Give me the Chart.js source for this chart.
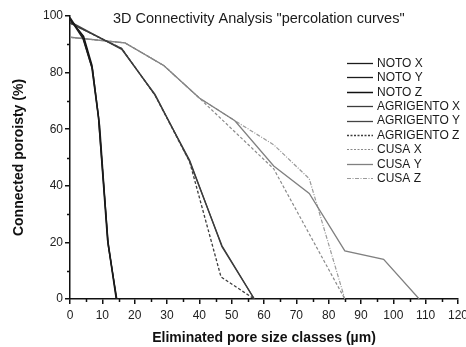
<!DOCTYPE html>
<html>
<head>
<meta charset="utf-8">
<title>3D Connectivity Analysis</title>
<script src="https://cdn.jsdelivr.net/npm/chart.js@4.4.1/dist/chart.umd.min.js"></script>
<style>
  html, body { margin: 0; padding: 0; background: #fff; }
  #wrap { width: 466px; height: 347px; }
</style>
</head>
<body>
<div id="wrap"><canvas id="chart" width="466" height="347"></canvas></div>
<script>
// ---- data: eliminated pore size (µm) / connected porosity (%) ----
const seriesNames = ['NOTO X', 'NOTO Y', 'NOTO Z', 'AGRIGENTO X', 'AGRIGENTO Y', 'AGRIGENTO Z', 'CUSA X', 'CUSA Y', 'CUSA Z'];

const sizeNotoX = [0, 4, 6.7, 8.8, 11.8, 14.4];
const poroNotoX = [99, 92, 82, 64, 20, 0];
const sizeNotoY = [0, 4, 7, 9.2, 11.8, 14.5];
const poroNotoY = [99.5, 92.5, 81, 61, 19, 0];
const sizeNotoZ = [0, 4.2, 6.8, 8.8, 11.6, 14.3];
const poroNotoZ = [98.8, 92.8, 82.5, 64.5, 21, 0];

const sizeAgriX = [0, 16, 26.3, 37, 47, 57];
const poroAgriX = [97.5, 88.5, 72, 49, 18.5, 0];
const sizeAgriY = [0, 16, 26.3, 37, 47, 57];
const poroAgriY = [98, 88.2, 72.3, 48.6, 18.8, 0];
const sizeAgriZ = [0, 16, 26.3, 37, 46.7, 57];
const poroAgriZ = [97.5, 88.5, 72, 48.5, 7.8, 0];

const sizeCusaX = [0, 17, 29, 40, 63, 85];
const poroCusaX = [92.5, 90.5, 82.5, 71, 46, 0];
const sizeCusaY = [0, 17, 29, 40, 51, 63, 74, 85, 97, 108];
const poroCusaY = [92.5, 90.5, 82.5, 71, 63, 47, 37.3, 17, 14, 0];
const sizeCusaZ = [0, 17, 29, 40, 51, 63, 74, 85];
const poroCusaZ = [92.5, 90.5, 82.5, 71, 63, 54.5, 42.5, 0];

const xTicksMinor = [5, 15, 25, 35, 45, 55, 65, 75, 85, 95, 105, 115];
const yTicksMinor = [10, 30, 50, 70, 90];

const FONT = "'Liberation Sans', Arial, sans-serif";

/**
 * Zip an x and a y array into chart points.
 */
const toPoints = (xs, ys) => xs.map((x, i) => ({ x: x, y: ys[i] }));

const makeSet = (i, xs, ys, color, width, dash, legendDash) => ({
  label: seriesNames[i],
  data: toPoints(xs, ys),
  borderColor: color,
  borderWidth: width,
  borderDash: dash,
  legendDash: legendDash || dash,
  pointRadius: 0,
  tension: 0,
  fill: false,
});

const datasets = [
  makeSet(0, sizeNotoX, poroNotoX, '#1c1c1c', 1.3, []),
  makeSet(1, sizeNotoY, poroNotoY, '#1c1c1c', 1.3, []),
  makeSet(2, sizeNotoZ, poroNotoZ, '#111111', 1.5, []),
  makeSet(3, sizeAgriX, poroAgriX, '#3c3c3c', 1.3, []),
  makeSet(4, sizeAgriY, poroAgriY, '#444444', 1.3, []),
  makeSet(5, sizeAgriZ, poroAgriZ, '#3c3c3c', 1.3, [3, 2], [2, 1.5]),
  makeSet(6, sizeCusaX, poroCusaX, '#8a8a8a', 1.2, [3, 2], [2, 1.5]),
  makeSet(7, sizeCusaY, poroCusaY, '#808080', 1.3, []),
  makeSet(8, sizeCusaZ, poroCusaZ, '#9a9a9a', 1.2, [4, 1.5, 1, 1.5]),
];

//* =============== overlay: title, legend, minor ticks =============== */
const overlayPlugin = {
  id: 'overlay',
  afterDraw(chart) {
    const ctx = chart.ctx;
    const area = chart.chartArea;
    const xs = chart.scales.x;
    const ys = chart.scales.y;
    ctx.save();

    // minor ticks, shorter than the major ones
    ctx.strokeStyle = '#111';
    ctx.lineWidth = 1.5;
    ctx.beginPath();
    xTicksMinor.forEach(v => {
      const px = Math.round(xs.getPixelForValue(v)) + 0.5;
      ctx.moveTo(px, area.bottom);
      ctx.lineTo(px, area.bottom + 3);
    });
    yTicksMinor.forEach(v => {
      const py = Math.round(ys.getPixelForValue(v)) + 0.5;
      ctx.moveTo(area.left, py);
      ctx.lineTo(area.left - 3, py);
    });
    ctx.stroke();

    // title sits inside the plot, top centre
    ctx.fillStyle = '#1a1a1a';
    ctx.font = '14.5px ' + FONT;
    ctx.textAlign = 'left';
    ctx.textBaseline = 'middle';
    ctx.fillText('3D Connectivity Analysis "percolation curves"', area.left + 43, 19);

    // legend, top right inside the plot
    const lx = area.right - 111;
    ctx.font = '12px ' + FONT;
    chart.data.datasets.forEach((ds, i) => {
      const ly = 63 + i * 14.4;
      ctx.strokeStyle = ds.borderColor;
      ctx.lineWidth = ds.borderWidth;
      ctx.setLineDash(ds.legendDash);
      ctx.beginPath();
      ctx.moveTo(lx, Math.round(ly) + 0.5);
      ctx.lineTo(lx + 26, Math.round(ly) + 0.5);
      ctx.stroke();
      ctx.setLineDash([]);
      ctx.fillStyle = '#1a1a1a';
      ctx.fillText(ds.label, lx + 30, ly + 0.5);
    });
    ctx.restore();
  },
};

const axisGrid = {
  drawOnChartArea: false,
  drawTicks: true,
  tickLength: 5,
  color: '#111',
  lineWidth: 1.5,
};

new Chart(document.querySelector('#chart'), {
  type: 'line',
  data: { datasets: datasets },
  plugins: [overlayPlugin],
  options: {
    responsive: false,
    animation: false,
    layout: { padding: { top: 16, right: 8, left: 0, bottom: 0 } },
    plugins: {
      legend: { display: false },
      tooltip: { enabled: false },
      title: { display: false },
    },
    scales: {
      x: {
        type: 'linear',
        min: 0,
        max: 120,
        grid: axisGrid,
        border: { display: true, color: '#111', width: 1.5 },
        ticks: { stepSize: 10, padding: 4, color: '#222', font: { family: FONT, size: 12 }, maxRotation: 0 },
        title: {
          display: true,
          text: 'Eliminated pore size classes (\u00b5m)',
          color: '#111',
          font: { family: FONT, size: 14, weight: 'bold' },
          padding: { top: 0, bottom: 0 },
        },
        afterFit: (scale) => {
          scale.height = 48;
          scale.paddingRight = 0;
        },
      },
      y: {
        min: 0,
        max: 100,
        grid: axisGrid,
        border: { display: true, color: '#111', width: 1.5 },
        ticks: { stepSize: 20, padding: 2, color: '#222', font: { family: FONT, size: 12 } },
        title: {
          display: true,
          text: 'Connected poroisty (%)',
          color: '#111',
          font: { family: FONT, size: 14, weight: 'bold' },
          padding: { top: 11, bottom: 0 },
        },
        afterFit: (scale) => {
          scale.width = 70;
        },
      },
    },
  },
});
</script>
</body>
</html>
